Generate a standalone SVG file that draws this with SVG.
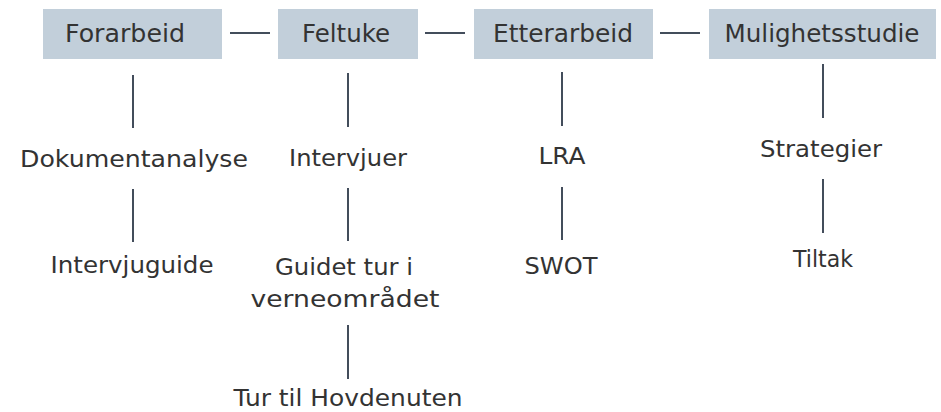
<svg xmlns="http://www.w3.org/2000/svg" width="941" height="412" viewBox="0 0 941 412">
<style>
.box{fill:#c2cfda}
.t{font-family:"DejaVu Sans","Liberation Sans",sans-serif;fill:#333333;text-anchor:middle}
.h{font-size:25px}
.s{font-size:23px}
.ln{stroke:#434d5b;stroke-width:2;fill:none}
</style>
<rect width="941" height="412" fill="#ffffff"/>
<g id="connectors">
<line class="ln" x1="230" y1="33" x2="270" y2="33"/>
<line class="ln" x1="425" y1="33" x2="465" y2="33"/>
<line class="ln" x1="660" y1="33" x2="700" y2="33"/>
<line class="ln" x1="133" y1="75" x2="133" y2="128"/>
<line class="ln" x1="348" y1="73" x2="348" y2="127"/>
<line class="ln" x1="562" y1="72" x2="562" y2="126"/>
<line class="ln" x1="823" y1="64" x2="823" y2="118"/>
<line class="ln" x1="133" y1="189" x2="133" y2="242"/>
<line class="ln" x1="348" y1="188" x2="348" y2="241"/>
<line class="ln" x1="562" y1="187" x2="562" y2="240"/>
<line class="ln" x1="823" y1="179" x2="823" y2="233"/>
<line class="ln" x1="348" y1="325" x2="348" y2="379"/>
</g>
<g id="forarbeid"><rect class="box" x="43" y="9" width="179" height="50"/><text class="t h" x="125" y="42" textLength="120" lengthAdjust="spacingAndGlyphs">Forarbeid</text></g>
<g id="feltuke"><rect class="box" x="278" y="9" width="140" height="50"/><text class="t h" x="346" y="42" textLength="88" lengthAdjust="spacingAndGlyphs">Feltuke</text></g>
<g id="etterarbeid"><rect class="box" x="474" y="9" width="179" height="50"/><text class="t h" x="563" y="42" textLength="140" lengthAdjust="spacingAndGlyphs">Etterarbeid</text></g>
<g id="mulighetsstudie"><rect class="box" x="709" y="9" width="227" height="50"/><text class="t h" x="822" y="42" textLength="195" lengthAdjust="spacingAndGlyphs">Mulighetsstudie</text></g>
<g id="dokumentanalyse"><text class="t s" x="134" y="167" textLength="228" lengthAdjust="spacingAndGlyphs">Dokumentanalyse</text></g>
<g id="intervjuguide"><text class="t s" x="132" y="273" textLength="163" lengthAdjust="spacingAndGlyphs">Intervjuguide</text></g>
<g id="intervjuer"><text class="t s" x="348" y="166" textLength="118" lengthAdjust="spacingAndGlyphs">Intervjuer</text></g>
<g id="guidet"><text class="t s" x="344" y="275" textLength="138" lengthAdjust="spacingAndGlyphs">Guidet tur i</text><text class="t s" x="345" y="307" textLength="189" lengthAdjust="spacingAndGlyphs">verneområdet</text></g>
<g id="hovdenuten"><text class="t s" x="348" y="406" textLength="229" lengthAdjust="spacingAndGlyphs">Tur til Hovdenuten</text></g>
<g id="lra"><text class="t s" x="562" y="164" textLength="47" lengthAdjust="spacingAndGlyphs">LRA</text></g>
<g id="swot"><text class="t s" x="561" y="274" textLength="73" lengthAdjust="spacingAndGlyphs">SWOT</text></g>
<g id="strategier"><text class="t s" x="821" y="157" textLength="122" lengthAdjust="spacingAndGlyphs">Strategier</text></g>
<g id="tiltak"><text class="t s" x="823" y="267" textLength="60" lengthAdjust="spacingAndGlyphs">Tiltak</text></g>
</svg>
